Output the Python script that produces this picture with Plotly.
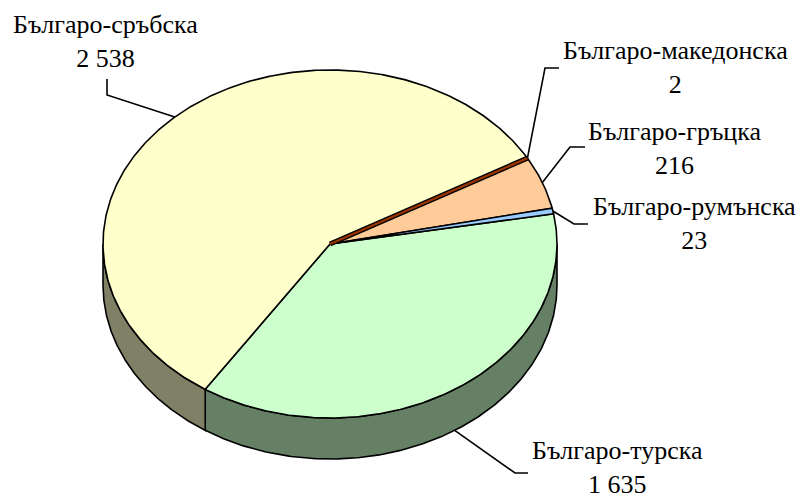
import numpy as np
import plotly.graph_objects as go

# ---- data ----
labels = ["Българо-турска", "Българо-сръбска", "Българо-македонска", "Българо-гръцка", "Българо-румънска"]
values = [1635, 2538, 2, 216, 23]
top_colors = ["#CCFFCC", "#FFFFCC", "#993300", "#FFCC99", "#99CCFF"]
side_colors = ["#668066", "#808066", "#4D1A00", "#80664D", "#4D6680"]

# ---- geometry (pixel space) ----
CX, CY, A, B, DEPTH = 330, 244, 227, 174, 41
START = 10.0  # degrees, first slice starts here, clockwise
FONT = dict(family="'Times New Roman', 'Liberation Serif', 'DejaVu Serif', serif", size=26, color="black")
LW = 1.6

# label anchors and leader elbows (layout)
label_pos = {
    "Българо-турска": (617, 467),
    "Българо-сръбска": (105, 41),
    "Българо-македонска": (675, 67),
    "Българо-гръцка": (674, 148),
    "Българо-румънска": (694, 223),
}
leader_pts = {
    "Българо-турска": [(515, 473), (528, 473)],
    "Българо-сръбска": [(107, 95), (107, 79)],
    "Българо-македонска": [(545, 68), (559, 68)],
    "Българо-гръцка": [(570, 147), (585, 147)],
    "Българо-румънска": [(574, 224), (588, 224)],
}


def ell(t_deg, dz=0.0):
    t = np.radians(t_deg)
    return CX + A * np.cos(t), CY - B * np.sin(t) + dz


total = float(sum(values))
cum = np.concatenate([[0], np.cumsum(values)])
starts = START - 360 * cum[:-1] / total
ends = START - 360 * cum[1:] / total

fig = go.Figure()

# side walls (visible front half: sin <= 0)
for i in range(len(values)):
    lo, hi = ends[i], starts[i]
    for k in range(-2, 2):
        a0, a1 = max(lo, -180 + 360 * k), min(hi, 360 * k)
        if a1 - a0 > 1e-6:
            ts = np.linspace(a0, a1, 200)
            xt, yt = ell(ts)
            xb, yb = ell(ts[::-1], DEPTH)
            fig.add_trace(go.Scatter(
                x=np.concatenate([xt, xb, xt[:1]]), y=np.concatenate([yt, yb, yt[:1]]),
                mode="lines", fill="toself", fillcolor=side_colors[i],
                line=dict(color="black", width=LW), hoverinfo="skip", showlegend=False))

# top faces
for i in range(len(values)):
    ts = np.linspace(starts[i], ends[i], max(3, int(abs(starts[i] - ends[i]) * 2)))
    xa, ya = ell(ts)
    fig.add_trace(go.Scatter(
        x=np.concatenate([[CX], xa, [CX]]), y=np.concatenate([[CY], ya, [CY]]),
        mode="lines", fill="toself", fillcolor=top_colors[i],
        line=dict(color="black", width=LW), hoverinfo="skip", showlegend=False,
        name=labels[i]))

# very thin slices: make them visible as a coloured line
for i in range(len(values)):
    if abs(starts[i] - ends[i]) < 1.0:
        mid = (starts[i] + ends[i]) / 2
        ex, ey = ell(mid)
        fig.add_trace(go.Scatter(x=[CX, ex], y=[CY, ey], mode="lines",
                                 line=dict(color="black", width=5), hoverinfo="skip", showlegend=False))
        fig.add_trace(go.Scatter(x=[CX, ex], y=[CY, ey], mode="lines",
                                 line=dict(color=top_colors[i], width=2.4), hoverinfo="skip", showlegend=False))

# leaders and labels
for i, lab in enumerate(labels):
    mid = (starts[i] + ends[i]) / 2
    front = np.sin(np.radians(mid)) < -0.5
    ex, ey = ell(mid, DEPTH if front else 0)
    pts = [(ex, ey)] + leader_pts[lab]
    fig.add_trace(go.Scatter(x=[p[0] for p in pts], y=[p[1] for p in pts], mode="lines",
                             line=dict(color="black", width=LW), hoverinfo="skip", showlegend=False))
    txt = f"{values[i]:,}".replace(",", " ")
    lx, ly = label_pos[lab]
    fig.add_annotation(x=lx, y=ly, text=f"{lab}<br>{txt}", showarrow=False,
                       font=FONT, xanchor="center", yanchor="middle", align="center")

fig.update_xaxes(range=[0, 803], visible=False, fixedrange=True)
fig.update_yaxes(range=[501, 0], visible=False, fixedrange=True)
fig.update_layout(width=803, height=501, margin=dict(l=0, r=0, t=0, b=0),
                  paper_bgcolor="white", plot_bgcolor="white", showlegend=False,
                  font=FONT)
fig.write_html("out.html", config={"displayModeBar": False},
               post_script="document.body.style.margin='0px';document.body.style.overflow='hidden';")
